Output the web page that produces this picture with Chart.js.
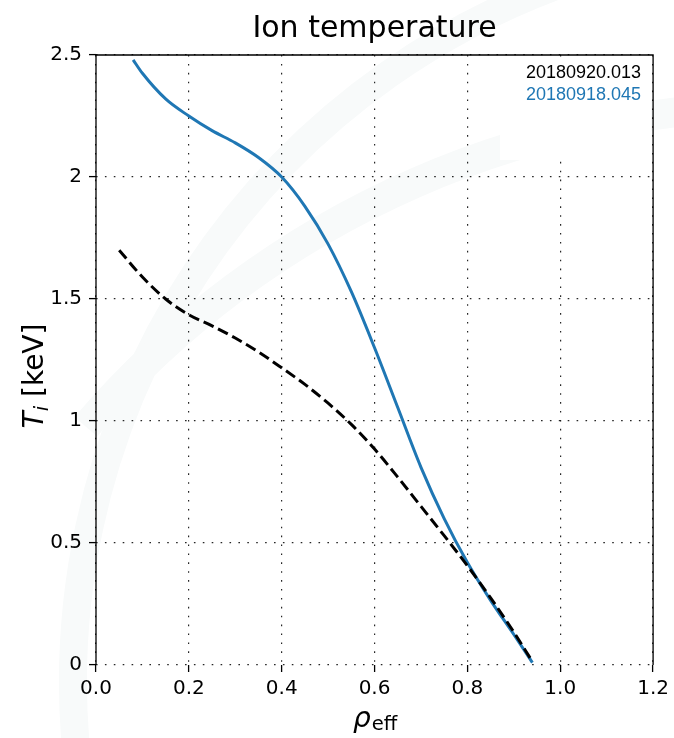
<!DOCTYPE html>
<html lang="en">
<head>
    <meta charset="UTF-8">
    <title>Ion temperature</title>
    <script src="https://cdn.jsdelivr.net/npm/chart.js"></script>
    <style>
        html, body { margin: 0; padding: 0; background: #fff; }
        canvas { display: block; }
    </style>
</head>
<body>
    <canvas id="tiChart" width="674" height="738"></canvas>

    <script>
        // Ion temperature profiles vs effective radius
        const shotNames = ['20180920.013', '20180918.045'];
        const shotColors = ['#000000', '#1f77b4'];

        // 20180920.013 (dashed black)
        const rhoA = [0.05, 0.1, 0.15, 0.2, 0.25, 0.3, 0.35, 0.4, 0.45, 0.5, 0.55, 0.6, 0.65, 0.7, 0.75, 0.8, 0.85, 0.9, 0.938];
        const tiA  = [1.70, 1.59, 1.50, 1.435, 1.39, 1.34, 1.283, 1.218, 1.15, 1.073, 0.986, 0.885, 0.77, 0.65, 0.53, 0.407, 0.275, 0.135, 0.02];

        // 20180918.045 (solid blue)
        const rhoB = [0.08, 0.1, 0.15, 0.2, 0.25, 0.3, 0.35, 0.4, 0.45, 0.5, 0.55, 0.6, 0.65, 0.7, 0.75, 0.8, 0.85, 0.9, 0.94];
        const tiB  = [2.48, 2.425, 2.32, 2.25, 2.19, 2.14, 2.08, 2.00, 1.88, 1.725, 1.53, 1.30, 1.055, 0.81, 0.60, 0.42, 0.265, 0.125, 0.01];

        const xTicks = [0, 0.2, 0.4, 0.6, 0.8, 1.0, 1.2];
        const yTicks = [0, 0.5, 1, 1.5, 2, 2.5];

        const toPoints = (xs, ys) => xs.map((x, i) => ({ x: x, y: ys[i] }));

        // faint logo arcs in the background
        const watermark = {
            id: 'watermark',
            beforeDraw(chart) {
                const ctx = chart.ctx;
                ctx.save();
                ctx.strokeStyle = 'rgb(248,250,250)';
                ctx.lineWidth = 28;
                ctx.beginPath();
                ctx.arc(816, 682, 743, 3.0, 4.45);
                ctx.stroke();
                ctx.lineWidth = 30;
                ctx.beginPath();
                ctx.arc(783, 1024, 918, 3.85, 4.75);
                ctx.stroke();
                ctx.restore();
            }
        };

        // spines, legend box and axis labels with subscripts
        const decorations = {
            id: 'decorations',
            afterDatasetsDraw(chart) {
                const ctx = chart.ctx;
                const a = chart.chartArea;
                ctx.save();

                // legend (text only, white frame hides the grid behind it)
                ctx.fillStyle = '#ffffff';
                ctx.fillRect(500, a.top + 2, a.right - 502, 103);
                ctx.font = '18px "Liberation Sans", Arial, sans-serif';
                ctx.textAlign = 'right';
                ctx.textBaseline = 'middle';
                shotNames.forEach((name, i) => {
                    ctx.fillStyle = shotColors[i];
                    ctx.fillText(name, 641, 73 + i * 22);
                });

                // frame: left, top, right
                ctx.strokeStyle = '#000';
                ctx.lineWidth = 1.3;
                ctx.beginPath();
                ctx.moveTo(a.left, a.bottom);
                ctx.lineTo(a.left, a.top);
                ctx.lineTo(a.right, a.top);
                ctx.lineTo(a.right, a.bottom);
                ctx.stroke();

                // x label: rho_eff
                ctx.fillStyle = '#000';
                ctx.textBaseline = 'alphabetic';
                ctx.textAlign = 'left';
                const big = 'italic 28px "DejaVu Sans"';
                const small = '19.6px "DejaVu Sans"';
                ctx.font = big;
                const wRho = ctx.measureText('ρ').width;
                ctx.font = small;
                const wEff = ctx.measureText('eff').width;
                const x0 = (a.left + a.right) / 2 - (wRho + wEff) / 2;
                ctx.font = big;
                ctx.fillText('ρ', x0, 727);
                ctx.font = small;
                ctx.fillText('eff', x0 + wRho + 1, 730);

                // y label: T_i [keV]
                ctx.translate(43, 376);
                ctx.rotate(-Math.PI / 2);
                ctx.font = big;
                const wT = ctx.measureText('T').width;
                ctx.font = 'italic 19.6px "DejaVu Sans"';
                const wI = ctx.measureText('i').width;
                ctx.font = '28px "DejaVu Sans"';
                const wUnit = ctx.measureText(' [keV]').width;
                const s = -(wT + wI + wUnit) / 2;
                ctx.font = big;
                ctx.fillText('T', s, 0);
                ctx.font = 'italic 19.6px "DejaVu Sans"';
                ctx.fillText('i', s + wT, 5);
                ctx.font = '28px "DejaVu Sans"';
                ctx.fillText(' [keV]', s + wT + wI, 0);

                ctx.restore();
            }
        };

        const gridStyle = {
            color: 'rgba(0,0,0,0.85)',
            lineWidth: 1.2,
            tickLength: 7,
            tickColor: '#000',
            tickWidth: 1.3,
            tickBorderDash: []
        };
        // in v4 the dash of the grid lines lives in the border options
        const borderStyle = { display: false, dash: [1.6, 7.3] };

        new Chart(document.getElementById('tiChart'), {
            type: 'scatter',
            data: {
                datasets: [
                    {
                        label: shotNames[0],
                        data: toPoints(rhoA, tiA),
                        showLine: true,
                        borderColor: shotColors[0],
                        borderWidth: 3,
                        borderDash: [11, 5],
                        pointRadius: 0,
                        cubicInterpolationMode: 'monotone',
                        order: 1
                    },
                    {
                        label: shotNames[1],
                        data: toPoints(rhoB, tiB),
                        showLine: true,
                        borderColor: shotColors[1],
                        borderWidth: 3,
                        pointRadius: 0,
                        cubicInterpolationMode: 'monotone',
                        order: 2
                    }
                ]
            },
            options: {
                responsive: false,
                animation: false,
                devicePixelRatio: 1,
                layout: { padding: { top: 0, right: 19, bottom: 0, left: 0 } },
                plugins: {
                    legend: { display: false },
                    tooltip: { enabled: false },
                    title: {
                        display: true,
                        text: 'Ion temperature',
                        fullSize: false,
                        color: '#000',
                        font: { family: '"DejaVu Sans"', size: 30, weight: 'normal' },
                        padding: { top: 11, bottom: 8 }
                    }
                },
                scales: {
                    x: {
                        type: 'linear',
                        min: 0,
                        max: 1.2,
                        afterBuildTicks: axis => { axis.ticks = xTicks.map(v => ({ value: v })); },
                        afterFit: axis => { axis.height = 73; },
                        border: borderStyle,
                        grid: gridStyle,
                        ticks: {
                            color: '#000',
                            padding: 5,
                            maxRotation: 0,
                            font: { family: '"DejaVu Sans"', size: 20 },
                            callback: v => v.toFixed(1)
                        }
                    },
                    y: {
                        type: 'linear',
                        min: 0,
                        max: 2.5,
                        afterBuildTicks: axis => { axis.ticks = yTicks.map(v => ({ value: v })); },
                        afterFit: axis => { axis.width = 96; },
                        border: borderStyle,
                        grid: gridStyle,
                        ticks: {
                            color: '#000',
                            padding: 7,
                            font: { family: '"DejaVu Sans"', size: 20 },
                            callback: v => String(v)
                        }
                    }
                }
            },
            plugins: [watermark, decorations]
        });
    </script>
</body>
</html>
